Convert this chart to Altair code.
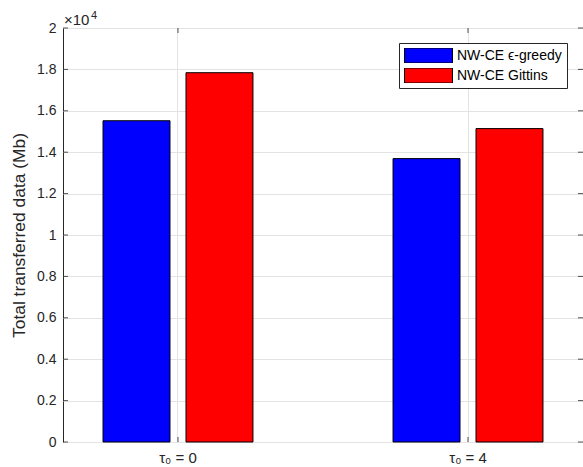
import altair as alt
import pandas as pd

# ---- data ----
categories = ["τ₀ = 0", "τ₀ = 4"]
series = ["NW-CE ϵ-greedy", "NW-CE Gittins"]
eps_greedy = [15520, 13690]
gittins = [17840, 15140]
colors = ["#0000ff", "#ff0000"]
y_ticks = [0, 2000, 4000, 6000, 8000, 10000, 12000, 14000, 16000, 18000, 20000]

rows = []
for i, c in enumerate(categories):
    rows.append({"cat": c, "series": series[0], "value": eps_greedy[i]})
    rows.append({"cat": c, "series": series[1], "value": gittins[i]})
df = pd.DataFrame(rows)
ytick_df = pd.DataFrame({"v": y_ticks})
xtick_df = pd.DataFrame({"cat": categories})

W, H = 520, 414
FONT = "Liberation Sans"
AX = "#262626"
GRID = "#e3e3e3"
TL = 5

xscale = alt.Scale(domain=categories, paddingInner=0.483, paddingOuter=0.138)
yscale = alt.Scale(domain=[0, 20000], nice=False)

bars = alt.Chart(df).mark_bar(stroke="black", strokeWidth=1, opacity=1).encode(
    x=alt.X("cat:N", scale=xscale, sort=categories,
            axis=alt.Axis(title=None, labelAngle=0, grid=True, gridColor=GRID,
                          ticks=False, domain=False, bandPosition=0.5,
                          labelFontSize=15, labelPadding=8, labelColor=AX)),
    xOffset=alt.XOffset("series:N", sort=series,
                        scale=alt.Scale(domain=series, paddingInner=0.193, paddingOuter=0)),
    y=alt.Y("value:Q", scale=yscale,
            axis=alt.Axis(title="Total transferred data (Mb)", values=y_ticks,
                          labelExpr="datum.value / 10000", grid=True, gridColor=GRID,
                          ticks=False, domain=False, labelFontSize=14, labelPadding=7,
                          labelColor=AX, titleFontSize=17.4, titleFontWeight="normal",
                          titleColor=AX, titlePadding=8)),
    color=alt.Color("series:N", sort=series,
                    scale=alt.Scale(domain=series, range=colors),
                    legend=alt.Legend(title=None, orient="none", legendX=336, legendY=15,
                                      symbolType="M-1,-0.3125H1V0.3125H-1Z",
                                      symbolSize=2304, clipHeight=15,
                                      symbolStrokeColor="black", symbolStrokeWidth=1,
                                      symbolOpacity=1, labelFontSize=14, labelFont=FONT,
                                      labelColor="black", labelOffset=4, rowPadding=5,
                                      padding=5, fillColor="white", strokeColor=AX)),
)

left_ticks = alt.Chart(ytick_df).mark_rule(color=AX, strokeWidth=0.8).encode(
    y=alt.Y("v:Q", scale=yscale), x=alt.value(0), x2=alt.value(TL))
right_ticks = alt.Chart(ytick_df).mark_rule(color=AX, strokeWidth=0.8).encode(
    y=alt.Y("v:Q", scale=yscale), x=alt.value(W - TL), x2=alt.value(W))
top_ticks = alt.Chart(xtick_df).mark_rule(color=AX, strokeWidth=0.8).encode(
    x=alt.X("cat:N", scale=xscale, bandPosition=0.5), y=alt.value(0), y2=alt.value(TL))
bottom_ticks = alt.Chart(xtick_df).mark_rule(color=AX, strokeWidth=0.8).encode(
    x=alt.X("cat:N", scale=xscale, bandPosition=0.5), y=alt.value(H - TL), y2=alt.value(H))

mult = alt.Chart(pd.DataFrame({"t": ["×10"]})).mark_text(
    align="left", baseline="alphabetic", fontSize=15, font=FONT, color=AX
).encode(text="t:N", x=alt.value(1), y=alt.value(-3))
mult_exp = alt.Chart(pd.DataFrame({"t": ["4"]})).mark_text(
    align="left", baseline="alphabetic", fontSize=11, font=FONT, color=AX
).encode(text="t:N", x=alt.value(28), y=alt.value(-9))

chart = alt.layer(bars, left_ticks, right_ticks, top_ticks, bottom_ticks, mult, mult_exp).properties(
    width=W, height=H, autosize="none",
    padding={"left": 63, "top": 28, "right": 0, "bottom": 25},
).configure(font=FONT).configure_view(stroke=AX, strokeWidth=1)

chart.save("out.html", embed_options={"renderer": "svg", "actions": False})
